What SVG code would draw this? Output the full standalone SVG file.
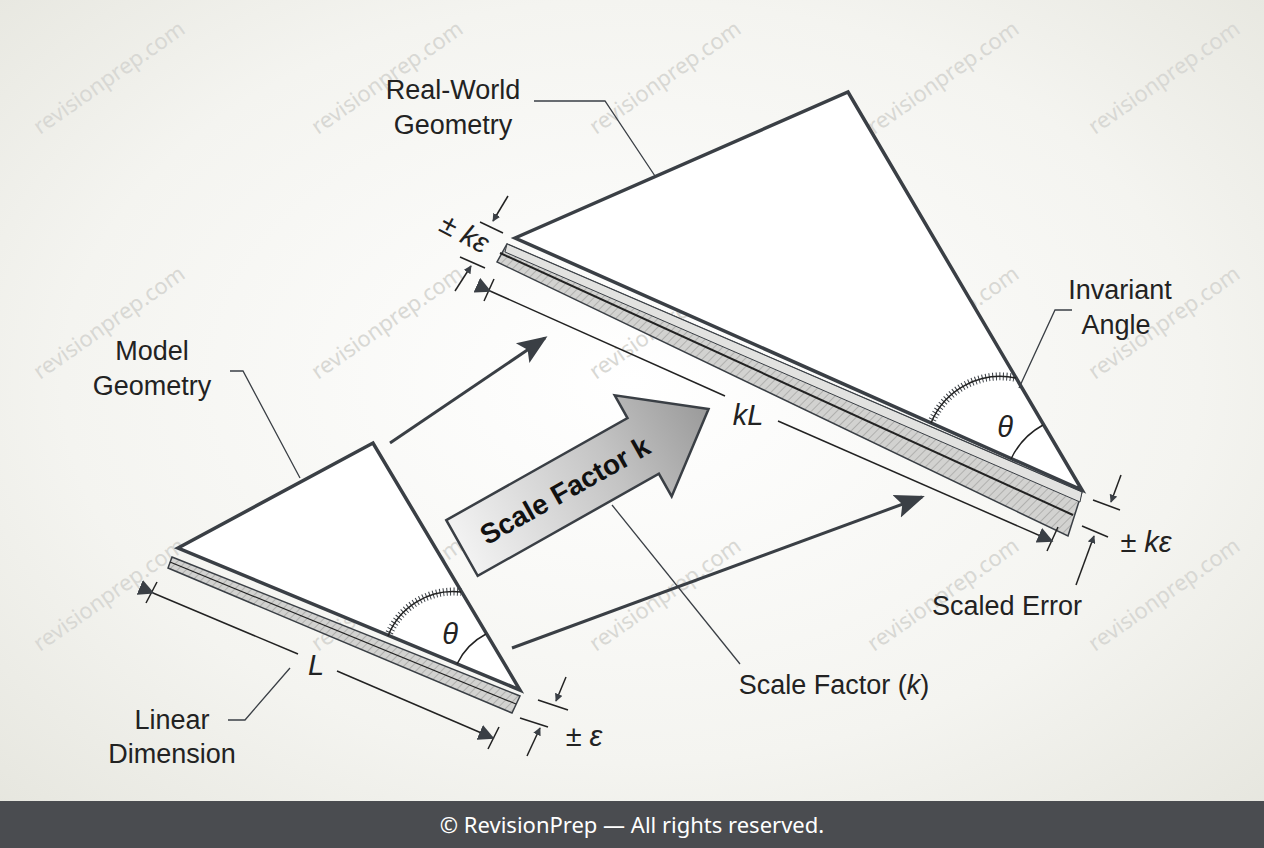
<svg xmlns="http://www.w3.org/2000/svg" width="1264" height="848" viewBox="0 0 1264 848">
<defs>
<radialGradient id="bg" cx="0.5" cy="0.45" r="0.75">
<stop offset="0" stop-color="#ffffff"/><stop offset="0.6" stop-color="#f4f4f0"/><stop offset="1" stop-color="#e4e4dc"/>
</radialGradient>
<linearGradient id="ag" x1="0" y1="0" x2="1" y2="0">
<stop offset="0" stop-color="#f2f2f2"/><stop offset="0.6" stop-color="#c4c4c4"/><stop offset="1" stop-color="#9a9a9a"/>
</linearGradient>
<pattern id="hatch" width="6" height="6" patternUnits="userSpaceOnUse" patternTransform="rotate(45)">
<rect width="6" height="6" fill="#d2d2d0"/><line x1="0" y1="0" x2="0" y2="6" stroke="#9a9a98" stroke-width="1.2"/>
</pattern>
<marker id="ah" viewBox="0 0 10 10" refX="9" refY="5" markerWidth="8" markerHeight="8" orient="auto-start-reverse" markerUnits="userSpaceOnUse">
<path d="M0,0 L10,5 L0,10 z" fill="#3a3f45"/>
</marker>
<marker id="sh" viewBox="0 0 10 10" refX="9" refY="5" markerWidth="16" markerHeight="16" orient="auto" markerUnits="userSpaceOnUse">
<path d="M0,0 L10,5 L0,10 z" fill="#3a3f45"/>
</marker>
<marker id="bh" viewBox="0 0 10 10" refX="9" refY="5" markerWidth="30" markerHeight="30" orient="auto" markerUnits="userSpaceOnUse">
<path d="M0,1 L10,5 L0,9 L2,5 z" fill="#3a3f45"/>
</marker>
<style>
.tri{fill:#fff;stroke:#3a3f45;stroke-width:3.5;stroke-linejoin:miter}
.thin{fill:none;stroke:#3a3f45;stroke-width:1.3}
.dim{fill:none;stroke:#222;stroke-width:1.5}
.lbl{font-family:"Liberation Sans",Arial,sans-serif;font-size:27px;fill:#222}
.mth{font-family:"Liberation Sans",Arial,sans-serif;font-size:29px;font-style:italic;fill:#222}
.wm{font-family:"Noto Sans","Liberation Sans",sans-serif;font-size:22px;fill:#d8d8d4}
</style>
</defs>
<rect width="1264" height="848" fill="url(#bg)"/>
<g id="watermarks">
<text class="wm" transform="translate(40,135) rotate(-35)">revisionprep.com</text>
<text class="wm" transform="translate(318,135) rotate(-35)">revisionprep.com</text>
<text class="wm" transform="translate(596,135) rotate(-35)">revisionprep.com</text>
<text class="wm" transform="translate(874,135) rotate(-35)">revisionprep.com</text>
<text class="wm" transform="translate(1095,135) rotate(-35)">revisionprep.com</text>
<text class="wm" transform="translate(40,380) rotate(-35)">revisionprep.com</text>
<text class="wm" transform="translate(318,380) rotate(-35)">revisionprep.com</text>
<text class="wm" transform="translate(596,380) rotate(-35)">revisionprep.com</text>
<text class="wm" transform="translate(874,380) rotate(-35)">revisionprep.com</text>
<text class="wm" transform="translate(1095,380) rotate(-35)">revisionprep.com</text>
<text class="wm" transform="translate(40,652) rotate(-35)">revisionprep.com</text>
<text class="wm" transform="translate(318,652) rotate(-35)">revisionprep.com</text>
<text class="wm" transform="translate(596,652) rotate(-35)">revisionprep.com</text>
<text class="wm" transform="translate(874,652) rotate(-35)">revisionprep.com</text>
<text class="wm" transform="translate(1095,652) rotate(-35)">revisionprep.com</text>
</g>
<g id="real-world-geometry">
<polygon points="507,244 1082,492 1068,536 497,262" fill="url(#hatch)" stroke="#3a3f45" stroke-width="1.5"/>
<polygon points="507,244 1082,492 1080,502 505,252" fill="#e2e2e0" stroke="#3a3f45" stroke-width="1"/>
<line x1="500" y1="253" x2="1073" y2="515" stroke="#222" stroke-width="2"/>
<polygon class="tri" points="515,238 848,92 1082,490"/>
<path d="M931,423 A75,75 0 0 1 1016,378" fill="none" stroke="#3a3f45" stroke-width="8" stroke-dasharray="1 2.5"/>
<path d="M931,423 A75,75 0 0 1 1016,378" fill="none" stroke="#222" stroke-width="1.5"/>
<path d="M1011,459 A76,76 0 0 1 1043,425" class="dim"/>
<text class="mth" x="1005" y="437" text-anchor="middle">θ</text>
</g>
<g id="model-geometry">
<polygon points="172,557 520,696 512,713 168,568" fill="url(#hatch)" stroke="#3a3f45" stroke-width="1.5"/>
<line x1="170" y1="562" x2="516" y2="704" stroke="#222" stroke-width="1.2"/>
<polygon class="tri" points="178,548 373,443 520,690"/>
<path d="M388,636 A70,70 0 0 1 461,592" fill="none" stroke="#3a3f45" stroke-width="8" stroke-dasharray="1 2.5"/>
<path d="M388,636 A70,70 0 0 1 461,592" fill="none" stroke="#222" stroke-width="1.5"/>
<path d="M457,664 A66,66 0 0 1 486,634" class="dim"/>
<text class="mth" x="450" y="644" text-anchor="middle">θ</text>
</g>
<g id="scale-arrow" transform="translate(462,548) rotate(-29.4)">
<polygon points="0,-32 208,-32 208,-58 283,0 208,58 208,32 0,32" fill="url(#ag)" stroke="#3a3f45" stroke-width="2.5"/>
<text x="118" y="10" text-anchor="middle" font-family="Liberation Sans,Arial,sans-serif" font-weight="bold" font-size="28" fill="#111">Scale Factor k</text>
</g>
<g id="connectors">
<line x1="390" y1="443" x2="545" y2="338" stroke="#3a3f45" stroke-width="3" marker-end="url(#bh)"/>
<line x1="512" y1="648" x2="922" y2="497" stroke="#3a3f45" stroke-width="3" marker-end="url(#bh)"/>
<line x1="484" y1="301" x2="494" y2="279" class="dim"/>
<line x1="1047" y1="551" x2="1058" y2="527" class="dim"/>
<line x1="490" y1="291" x2="725" y2="396" class="dim" marker-start="url(#sh)"/>
<line x1="778" y1="421" x2="1052" y2="541" class="dim" marker-end="url(#sh)"/>
<text class="mth" x="748" y="425" text-anchor="middle">kL</text>
<line x1="146" y1="603" x2="157" y2="582" class="dim"/>
<line x1="488" y1="749" x2="499" y2="727" class="dim"/>
<line x1="153" y1="593" x2="298" y2="654" class="dim" marker-start="url(#sh)"/>
<line x1="337" y1="671" x2="493" y2="738" class="dim" marker-end="url(#sh)"/>
<text class="mth" x="316" y="675" text-anchor="middle">L</text>
<line x1="480" y1="222" x2="503" y2="233" class="dim"/>
<line x1="508" y1="196" x2="493" y2="221" class="dim" marker-end="url(#ah)"/>
<line x1="460" y1="257" x2="485" y2="268" class="dim"/>
<line x1="455" y1="291" x2="471" y2="266" class="dim" marker-end="url(#ah)"/>
<text class="mth" transform="translate(460,242) rotate(28)" text-anchor="middle">± kε</text>
<line x1="1093" y1="500" x2="1120" y2="510" class="dim"/>
<line x1="1121" y1="475" x2="1111" y2="502" class="dim" marker-end="url(#ah)"/>
<line x1="1082" y1="526" x2="1108" y2="537" class="dim"/>
<line x1="1076" y1="585" x2="1094" y2="536" class="dim" marker-end="url(#ah)"/>
<text class="mth" x="1146" y="552" text-anchor="middle">± kε</text>
<line x1="538" y1="700" x2="568" y2="710" class="dim"/>
<line x1="566" y1="677" x2="556" y2="701" class="dim" marker-end="url(#ah)"/>
<line x1="520" y1="718" x2="548" y2="727" class="dim"/>
<line x1="527" y1="756" x2="540" y2="728" class="dim" marker-end="url(#ah)"/>
<text class="mth" x="584" y="746" text-anchor="middle">± ε</text>
<polyline points="534,101 605,101 655,176" class="thin"/>
<polyline points="230,371 243,371 300,478" class="thin"/>
<polyline points="1072,310 1055,310 1019,388" class="thin"/>
<polyline points="228,720 245,720 290,668" class="thin"/>
<line x1="740" y1="664" x2="612" y2="505" class="thin"/>
</g>
<g id="labels">
<text class="lbl" x="453" y="99" text-anchor="middle">Real-World</text>
<text class="lbl" x="453" y="134" text-anchor="middle">Geometry</text>
<text class="lbl" x="152" y="360" text-anchor="middle">Model</text>
<text class="lbl" x="152" y="395" text-anchor="middle">Geometry</text>
<text class="lbl" x="1120" y="299" text-anchor="middle">Invariant</text>
<text class="lbl" x="1116" y="334" text-anchor="middle">Angle</text>
<text class="lbl" x="172" y="729" text-anchor="middle">Linear</text>
<text class="lbl" x="172" y="763" text-anchor="middle">Dimension</text>
<text class="lbl" x="834" y="694" text-anchor="middle">Scale Factor (<tspan font-style="italic">k</tspan>)</text>
<text class="lbl" x="1007" y="615" text-anchor="middle">Scaled Error</text>
</g>
<g id="footer">
<rect x="0" y="801" width="1264" height="47" fill="#4a4c50"/>
<text x="632" y="833" text-anchor="middle" font-family="Noto Sans,Liberation Sans,sans-serif" font-size="22" fill="#fff">© RevisionPrep — All rights reserved.</text>
</g>
</svg>
